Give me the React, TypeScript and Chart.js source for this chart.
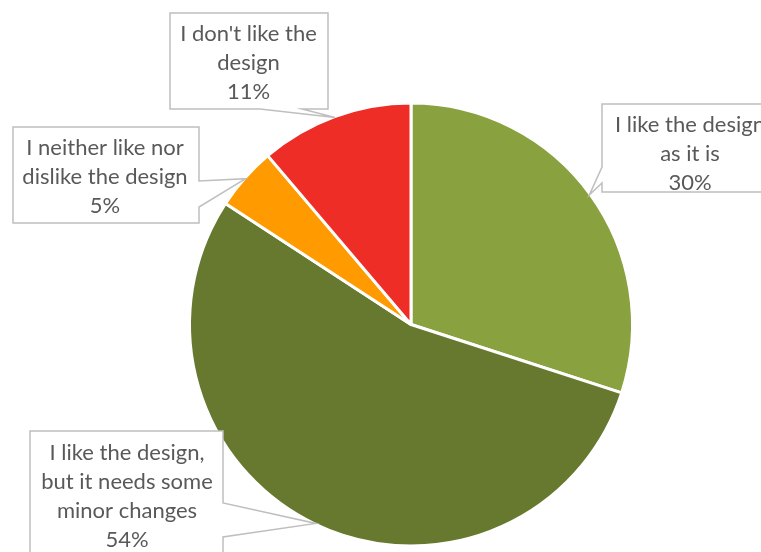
import React, { useEffect, useRef } from "react";
import { Chart, registerables } from "chart.js";

Chart.register(...registerables);

// ---- data ----
const categories: string[][] = [
  ["I like the design", "as it is"],
  ["I like the design,", "but it needs some", "minor changes"],
  ["I neither like nor", "dislike the design"],
  ["I don't like the", "design"],
];
const shares: number[] = [30.0, 54.2, 4.6, 11.2];
const sliceColors: string[] = ["#8AA13F", "#66792E", "#FF9B00", "#EE2D27"];

// ---- callout layout (box rect, pointer base, text anchor) ----
type Callout = {
  x: number; y: number; w: number; h: number;
  side: "left" | "right" | "bottom";
  b1: number; b2: number; cx: number; base: number;
};
const calloutLayout: Callout[] = [
  { x: 602, y: 104, w: 180, h: 88, side: "left", b1: 167, b2: 183, cx: 690, base: 132 },
  { x: 30, y: 431, w: 193, h: 140, side: "right", b1: 503, b2: 537, cx: 127, base: 460 },
  { x: 13, y: 127, w: 186, h: 96, side: "right", b1: 181, b2: 207, cx: 105, base: 155 },
  { x: 170, y: 13, w: 158, h: 96, side: "bottom", b1: 260, b2: 302, cx: 248.5, base: 41 },
];
const LINE_H = 29;
const FONT = '22px Lato';
const TEXT_COLOR = "#595959";
const BORDER_COLOR = "#BFBFBF";

const calloutPlugin = {
  id: "callouts",
  afterDraw(chart: any) {
    const ctx: CanvasRenderingContext2D = chart.ctx;
    const meta = chart.getDatasetMeta(0);
    const total = shares.reduce((a, b) => a + b, 0);
    meta.data.forEach((arc: any, i: number) => {
      const c = calloutLayout[i];
      if (!c) return;
      const p = arc.getProps(["x", "y", "startAngle", "endAngle", "outerRadius"], true);
      const mid = (p.startAngle + p.endAngle) / 2;
      const tx = p.x + Math.cos(mid) * (p.outerRadius - 1);
      const ty = p.y + Math.sin(mid) * (p.outerRadius - 1);
      const { x, y, w, h } = c;
      const pts: [number, number][] = [];
      if (c.side === "left") {
        pts.push([x, y], [x + w, y], [x + w, y + h], [x, y + h], [x, c.b2], [tx, ty], [x, c.b1]);
      } else if (c.side === "right") {
        pts.push([x, y], [x + w, y], [x + w, c.b1], [tx, ty], [x + w, c.b2], [x + w, y + h], [x, y + h]);
      } else {
        pts.push([x, y], [x + w, y], [x + w, y + h], [c.b2, y + h], [tx, ty], [c.b1, y + h], [x, y + h]);
      }
      ctx.save();
      ctx.beginPath();
      pts.forEach(([px, py], k) => (k === 0 ? ctx.moveTo(px, py) : ctx.lineTo(px, py)));
      ctx.closePath();
      ctx.fillStyle = "#FFFFFF";
      ctx.fill();
      ctx.lineWidth = 1.5;
      ctx.strokeStyle = BORDER_COLOR;
      ctx.lineJoin = "miter";
      ctx.stroke();
      const lines = [...categories[i], Math.round((shares[i] / total) * 100) + "%"];
      ctx.fillStyle = TEXT_COLOR;
      ctx.font = FONT;
      ctx.textAlign = "center";
      ctx.textBaseline = "alphabetic";
      lines.forEach((t, k) => ctx.fillText(t, c.cx, c.base + k * LINE_H));
      ctx.restore();
    });
  },
};

export default function App() {
  const ref = useRef<HTMLCanvasElement | null>(null);
  useEffect(() => {
    if (!ref.current) return;
    const chart = new Chart(ref.current, {
      type: "pie",
      data: {
        labels: categories.map((c) => c.join(" ")),
        datasets: [
          {
            data: shares,
            backgroundColor: sliceColors,
            borderColor: "#FFFFFF",
            borderWidth: 3,
          },
        ],
      },
      options: {
        responsive: true,
        maintainAspectRatio: false,
        animation: false,
        layout: { padding: { left: 188, right: 127, top: 101.5, bottom: 4.5 } },
        plugins: { legend: { display: false }, tooltip: { enabled: false } },
      },
      plugins: [calloutPlugin],
    });
    return () => chart.destroy();
  }, []);
  return (
    <div style={{ position: "absolute", left: 0, top: 0, width: 761, height: 552, background: "#fff" }}>
      <canvas ref={ref} />
    </div>
  );
}
